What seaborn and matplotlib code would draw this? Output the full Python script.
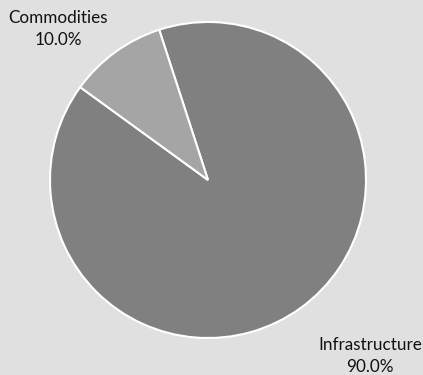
import matplotlib
matplotlib.use("Agg")
import seaborn as sns
from matplotlib import pyplot as plt

sns.set_theme(style="white")
plt.rcParams["font.family"] = ["Lato", "DejaVu Sans"]

categories = ["Infrastructure", "Commodities"]
shares = [90.0, 10.0]
colors = ["#808080", "#a5a5a5"]

bg = "#e0e0e0"
fig = plt.figure(figsize=(4.23, 3.75), dpi=100, facecolor=bg)
ax = fig.add_axes([0, 0, 1, 1])
ax.set_facecolor(bg)

ax.pie(
    shares,
    colors=colors,
    startangle=144,
    counterclock=True,
    radius=1.0,
    wedgeprops={"edgecolor": "white", "linewidth": 1.5},
)

# labels placed outside, like the original
label_pos = {"Infrastructure": (1.025, -1.114), "Commodities": (-0.95, 0.956)}
for name, val in zip(categories, shares):
    x, y = label_pos[name]
    ax.text(x, y, f"{name}\n{val:.1f}%", ha="center", va="center",
            fontsize=12.3, color="#111111", linespacing=1.45)

ax.set_xlim(-208 / 158, (423 - 208) / 158)
ax.set_ylim(-(375 - 180) / 158, 180 / 158)
ax.set_aspect("auto")
ax.axis("off")

fig.savefig("out.png", dpi=100, facecolor=bg)
